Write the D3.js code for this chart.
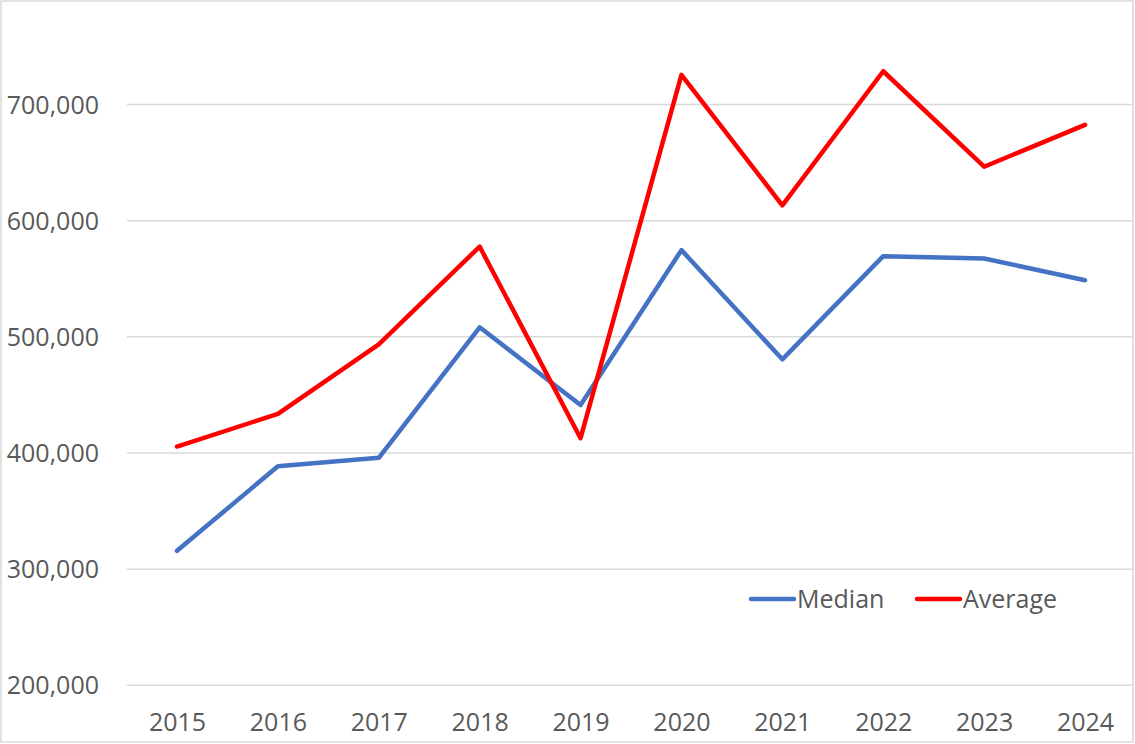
<!DOCTYPE html>
<html>
<head>
<meta charset="utf-8">
<script src="https://cdn.jsdelivr.net/npm/d3@7"></script>
<style>
  html, body { margin: 0; padding: 0; background: #fff; }
  svg { display: block; }
  text { font-family: "Open Sans", sans-serif; fill: #595959; }
</style>
</head>
<body>
<svg id="chart" width="1135" height="744"></svg>
<script>
const years = ["2015","2016","2017","2018","2019","2020","2021","2022","2023","2024"];
const median = [315400, 388100, 395400, 507800, 440800, 574200, 480200, 569000, 567000, 548300];
const average = [405100, 433200, 493100, 577200, 412300, 725100, 612800, 728200, 646000, 682000];
const yTicks = [200000, 300000, 400000, 500000, 600000, 700000];
const seriesNames = ["Median", "Average"];
const seriesColors = ["#4472C4", "#FF0000"];

const svg = d3.select("#chart");

const x = d3.scalePoint().domain(years).range([177, 1085]);
const y = d3.scaleLinear().domain([200000, 800000]).range([684.8, 684.8 - 6 * 116.16]);

// outer border
svg.append("rect")
  .attr("x", 1).attr("y", 1).attr("width", 1132).attr("height", 741)
  .attr("fill", "#fff").attr("stroke", "#d9d9d9").attr("stroke-width", 1.5);

// gridlines + y labels via axis
const yAxis = d3.axisLeft(y).tickValues(yTicks)
  .tickSize(-(1133 - 127)).tickPadding(0)
  .tickFormat(d3.format(","));
const gy = svg.append("g").attr("transform", "translate(127,0)").call(yAxis);
gy.select(".domain").remove();
gy.selectAll(".tick line").attr("stroke", "#d9d9d9").attr("stroke-width", 1.5);
gy.selectAll(".tick text")
  .attr("x", -28).attr("dy", null).attr("y", 9)
  .style("font-size", "25px").style("font-family", "'Open Sans', sans-serif")
  .attr("fill", "#595959").attr("text-anchor", "end");

// x labels via axis
const xAxis = d3.axisBottom(x).tickSize(0).tickPadding(0);
const gx = svg.append("g").attr("transform", "translate(0,684.8)").call(xAxis);
gx.select(".domain").remove();
gx.selectAll(".tick text")
  .attr("y", 46).attr("dy", null)
  .style("font-size", "25px").style("font-family", "'Open Sans', sans-serif")
  .attr("fill", "#595959");

// lines
const line = d3.line().x((d, i) => x(years[i])).y(d => y(d));
[median, average].forEach((data, k) => {
  svg.append("path")
    .datum(data)
    .attr("d", line)
    .attr("fill", "none")
    .attr("stroke", seriesColors[k])
    .attr("stroke-width", 4.5)
    .attr("stroke-linejoin", "round")
    .attr("stroke-linecap", "round");
});

// legend
const legendX = [751, 917];
seriesNames.forEach((name, k) => {
  const g = svg.append("g").attr("transform", `translate(${legendX[k]},599)`);
  g.append("line").attr("x1", 0).attr("x2", 43).attr("y1", 0).attr("y2", 0)
    .attr("stroke", seriesColors[k]).attr("stroke-width", 4.5).attr("stroke-linecap", "round");
  g.append("text").attr("x", 46).attr("y", 9)
    .style("font-size", "25px").text(name);
});
</script>
</body>
</html>
